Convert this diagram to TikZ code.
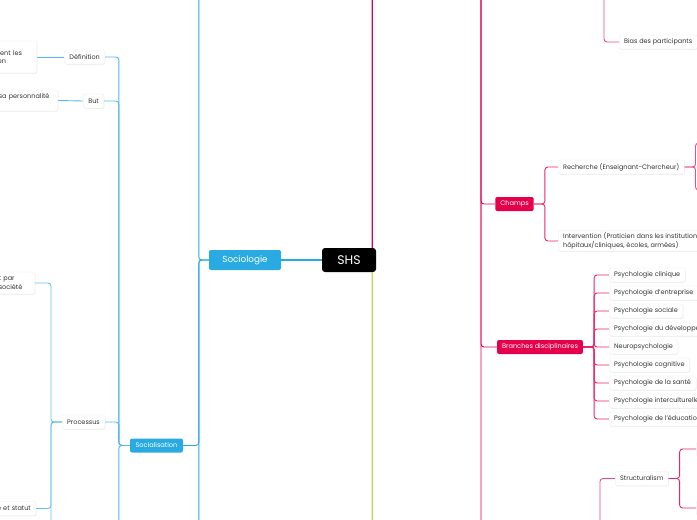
\documentclass[tikz,border=0pt]{standalone}
\usepackage{fontspec}
\setmainfont{Poppins}
\usetikzlibrary{shadows}
\definecolor{socblue}{RGB}{41,170,226}
\definecolor{psymag}{RGB}{230,0,76}
\definecolor{thirdgreen}{RGB}{198,216,77}
\definecolor{leaftext}{RGB}{51,51,51}

\begin{document}
\begin{tikzpicture}[x=1pt, y=-1pt,
  root/.style={fill=black, text=white, rounded corners=3pt, minimum width=54pt, minimum height=24pt, font=\fontsize{12.5}{14}\selectfont},
  maintopic/.style={fill=#1, text=white, rounded corners=2pt, minimum height=20pt, font=\fontsize{8.8}{10}\selectfont},
  subtopic/.style={fill=#1, text=white, rounded corners=2pt, minimum height=14pt, inner xsep=5pt, font=\fontsize{6.6}{7.5}\selectfont},
  leaf/.style={fill=white, draw=black!7, line width=0.3pt, text=leaftext, rounded corners=2pt, minimum height=14pt, inner xsep=5pt, inner ysep=2pt, align=left, font=\fontsize{6.5}{8.5}\selectfont, drop shadow={opacity=0.12, shadow xshift=0.4pt, shadow yshift=-0.8pt}},
  branch/.style={draw=#1, line width=0.9pt, rounded corners=3pt},
]
\useasboundingbox (0,0) rectangle (697,520);
\fill[white] (0,0) rectangle (697,520);
\clip (0,0) rectangle (697,520);

% free ends of branches that run off the page
\coordinate (psyW) at (400,-30);
\coordinate (psyE) at (460,-30);
\coordinate (psyDown) at (500,560);
\coordinate (thirdW) at (400,560);
\coordinate (socUp) at (150,-30);
\coordinate (socDown) at (150,560);
\coordinate (sociaDown) at (90,560);
\coordinate (procDown) at (20,560);
\coordinate (rechA) at (720,143);
\coordinate (rechB) at (720,190);
\coordinate (biasP) at (580,-30);
\coordinate (structP) at (580,560);

% root and first level
\node[root] (shs) at (349,260) {SHS};
\node[maintopic=socblue, minimum width=72pt] (socio) at (245,260) {Sociologie};
\draw[branch=socblue, line width=1.1pt] (shs.west) -- (socio.east);
\draw[branch=psymag, line width=1.1pt] ([xshift=-4pt]shs.north east) |- (psyW);
\draw[branch=thirdgreen, line width=1.1pt] ([xshift=-4pt]shs.south east) |- (thirdW);

% Sociologie
\node[subtopic=socblue, minimum width=53pt] (socia) at (156.5,445.5) {Socialisation};
\foreach \c in {socUp, socDown, socia.east}
  \draw[branch=socblue] (socio.west) -- ++(-10,0) |- (\c);

\node[leaf, anchor=east] (def) at (105,57) {Définition};
\node[leaf, anchor=east] (but) at (104,101) {But};
\node[leaf, anchor=east] (proc) at (105,422) {Processus};
\foreach \c in {def.east, but.east, proc.east, sociaDown}
  \draw[branch=socblue!80] (socia.west) -- ++(-11,0) |- (\c);

\node[leaf, anchor=east, text width=34pt, minimum height=32pt] (defTxt) at (37,57) {tent les\\en};
\node[leaf, anchor=east, text width=54pt, minimum height=21pt] (butTxt) at (58,100.5) {sa personnalité\\~};
\draw[branch=socblue!80] (def.west) -- (defTxt.east);
\draw[branch=socblue!80] (but.west) -- (butTxt.east);

\node[leaf, anchor=east, text width=31pt, minimum height=22pt] (procA) at (35,283) {t par\\société};
\node[leaf, anchor=east, text width=60pt, align=right] (procB) at (36,508.5) {e et statut};
\foreach \c in {procA.east, procB.east, procDown}
  \draw[branch=socblue!70] (proc.west) -- ++(-11,0) |- (\c);

% Psychologie
\node[subtopic=psymag] (champs) at (514.5,204) {Champs};
\node[subtopic=psymag] (branches) at (540,347) {Branches disciplinaires};
\foreach \c in {champs.west, branches.west, psyDown}
  \draw[branch=psymag] (psyE) -- ++(21,0) |- (\c);

\node[leaf, anchor=west] (rech) at (558,167) {Recherche (Enseignant-Chercheur)};
\node[leaf, anchor=west] (interv) at (558,241) {Intervention (Praticien dans les institutions\\hôpitaux/cliniques, écoles, armées)};
\foreach \c in {rech.west, interv.west}
  \draw[branch=psymag!85] (champs.east) -- ++(11,0) |- (\c);
\foreach \c in {rechA, rechB}
  \draw[branch=psymag!70] (rech.east) -- ++(11,0) |- (\c);

\foreach \txt [count=\i] in {Psychologie clinique, Psychologie d'entreprise, Psychologie sociale, Psychologie du développement, Neuropsychologie, Psychologie cognitive, Psychologie de la santé, Psychologie interculturelle, Psychologie de l'éducation}{
  \node[leaf, anchor=west] (br\i) at (609,257+18*\i) {\txt};
  \draw[branch=psymag!85] (branches.east) -- ++(11,0) |- (br\i.west);
}

\node[leaf, anchor=west] (bias) at (619,42) {Bias des participants};
\draw[branch=psymag!70] (biasP) -- ++(24,0) |- (bias.west);

\node[leaf, anchor=west] (struct) at (615,478.5) {Structuralism};
\draw[branch=psymag!70] (structP) -- ++(20,0) |- (struct.west);
\node[leaf, anchor=west, minimum width=30pt] (structA) at (696,449) {};
\node[leaf, anchor=west, minimum width=30pt] (structB) at (696,508) {};
\foreach \c in {structA.west, structB.west}
  \draw[branch=psymag!85] (struct.east) -- ++(11,0) |- (\c);
\end{tikzpicture}
\end{document}
